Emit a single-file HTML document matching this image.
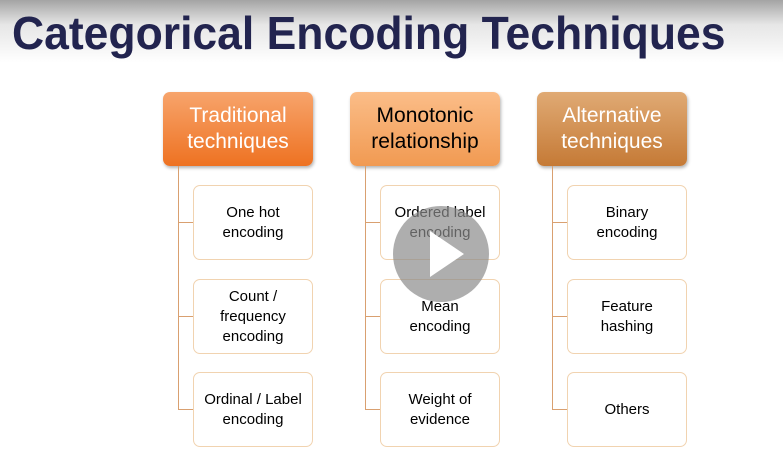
<!DOCTYPE html>
<html><head><style>
body{margin:0;width:783px;height:470px;overflow:hidden;background:#fff;font-family:"Liberation Sans",sans-serif;position:relative}
.top{position:absolute;left:0;top:0;width:783px;height:70px;background:linear-gradient(#a4a4a4,#e6e6e6 35%,#fff 90%)}
.title{position:absolute;left:12px;top:6px;font-weight:bold;font-size:46px;color:#22244f;white-space:nowrap;transform-origin:left top;transform:scaleX(0.967)}
.h{position:absolute;width:150px;height:74px;top:92px;border-radius:7px;display:flex;align-items:center;justify-content:center;text-align:center;font-size:21px;line-height:26px;box-shadow:1px 2px 3px rgba(0,0,0,.3)}
.s{position:absolute;width:118px;height:73px;border:1px solid #f1d3b0;border-radius:7px;background:#fff;display:flex;align-items:center;justify-content:center;text-align:center;font-size:15px;line-height:20px;color:#000}
.v{position:absolute;width:1px;background:#d9a070}
.hl{position:absolute;height:1px;width:15px;background:#d9a070}
</style></head><body>
<div class="top"></div>
<div class="title">Categorical Encoding Techniques</div>

<div class="h" style="left:163px;background:linear-gradient(#f7a46c,#ee7222);color:#fff">Traditional<br>techniques</div>
<div class="h" style="left:350px;background:linear-gradient(#fbbd88,#f19a52);color:#000">Monotonic<br>relationship</div>
<div class="h" style="left:537px;background:linear-gradient(#e0aa74,#c57a36);color:#fff">Alternative<br>techniques</div>

<div class="v" style="left:178px;top:166px;height:244px"></div>
<div class="v" style="left:365px;top:166px;height:244px"></div>
<div class="v" style="left:552px;top:166px;height:244px"></div>
<div class="hl" style="left:178px;top:222px"></div><div class="hl" style="left:178px;top:316px"></div><div class="hl" style="left:178px;top:409px"></div>
<div class="hl" style="left:365px;top:222px"></div><div class="hl" style="left:365px;top:316px"></div><div class="hl" style="left:365px;top:409px"></div>
<div class="hl" style="left:552px;top:222px"></div><div class="hl" style="left:552px;top:316px"></div><div class="hl" style="left:552px;top:409px"></div>

<div class="s" style="left:193px;top:185px">One hot<br>encoding</div>
<div class="s" style="left:193px;top:279px">Count /<br>frequency<br>encoding</div>
<div class="s" style="left:193px;top:372px">Ordinal / Label<br>encoding</div>
<div class="s" style="left:380px;top:185px">Ordered label<br>encoding</div>
<div class="s" style="left:380px;top:279px">Mean<br>encoding</div>
<div class="s" style="left:380px;top:372px">Weight of<br>evidence</div>
<div class="s" style="left:567px;top:185px">Binary<br>encoding</div>
<div class="s" style="left:567px;top:279px">Feature<br>hashing</div>
<div class="s" style="left:567px;top:372px">Others</div>

<svg style="position:absolute;left:392px;top:205px" width="98" height="98">
<circle cx="49" cy="49" r="48" fill="rgba(140,140,140,0.7)"/>
<polygon points="38,26 38,72 72,49" fill="#fff"/>
</svg>
</body></html>
